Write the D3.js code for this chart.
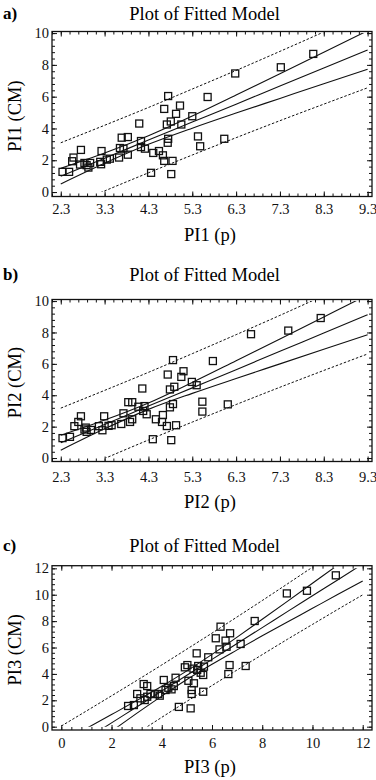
<!DOCTYPE html>
<html lang="en">
<head>
<meta charset="UTF-8">
<title>Plot of Fitted Model</title>
<script src="https://d3js.org/d3.v7.min.js"></script>
<style>
  body { margin: 0; background: #fff; }
  svg { display: block; font-family: "Liberation Serif", "Times New Roman", serif; }
  .frame { fill: none; stroke: #111; stroke-width: 1.3; }
  .tick line { stroke: #111; stroke-width: 1; }
  .domain { display: none; }
  .tick text { font-size: 14.5px; fill: #111; font-family: "Liberation Serif", serif; }
  .pt { fill: none; stroke: #111; stroke-width: 1.3; }
  .band { fill: none; stroke: #111; stroke-width: 1.1; }
  .pred { stroke-dasharray: 2.5, 1.8; stroke-width: 1; }
</style>
</head>
<body>
<svg id="chart" width="376" height="780"></svg>
<script>
// ---- panel a) PI1 ----
const xA = [2.34,2.49,2.56,2.59,2.76,2.74,2.84,2.89,2.93,2.97,3.23,3.20,3.22,3.35,3.42,3.63,3.65,3.69,3.73,3.83,
            3.83,4.09,4.13,4.13,4.22,4.41,4.36,4.54,4.63,4.66,4.75,4.72,4.74,4.75,4.81,4.66,4.85,4.82,4.93,5.02,
            5.05,5.30,5.43,5.48,5.65,6.03,6.28,7.32,8.06];
const yA = [1.27,1.27,1.94,2.17,2.65,1.73,1.83,1.69,1.54,1.83,2.58,1.90,1.75,2.04,2.10,2.17,2.77,3.42,2.73,3.46,
            2.35,4.31,3.21,2.83,2.73,2.46,1.21,2.58,2.31,5.23,6.04,4.25,3.10,3.35,4.44,1.96,1.96,1.13,4.92,5.44,
            4.25,4.77,3.50,2.88,5.98,3.35,7.46,7.85,8.69];
const gridAB = [2.3,3.3,4.3,5.3,6.3,7.3,8.3,9.3];
const fitA    = [1.00,2.13,3.27,4.40,5.53,6.67,7.80,8.94];
const confHiA = [1.49,2.45,3.54,4.78,6.10,7.44,8.79,10.15];
const confLoA = [0.51,1.81,3.00,4.02,4.97,5.89,6.81,7.72];
const predHiA = [3.10,4.20,5.32,6.48,7.65,8.85,10.07,11.31];
const predLoA = [-1.10,0.07,1.21,2.33,3.42,4.49,5.53,6.56];

// ---- panel b) PI2 ----
const xB = [2.34,2.51,2.61,2.70,2.76,2.84,2.89,2.87,2.99,3.17,3.29,3.25,3.39,3.46,3.68,3.73,3.84,3.93,3.88,3.93,
            4.07,4.16,4.21,4.18,4.26,4.40,4.47,4.63,4.61,4.74,4.86,4.79,4.79,4.86,4.89,4.72,4.93,4.82,5.05,5.10,
            5.29,5.40,5.53,5.53,5.77,6.11,6.64,7.49,8.23];
const yB = [1.27,1.35,2.03,2.30,2.66,1.82,1.67,1.94,1.79,2.03,2.66,1.77,2.05,2.09,2.17,2.85,3.56,3.56,2.30,2.47,
            3.27,4.43,3.31,3.00,2.79,1.20,2.47,2.74,2.30,5.32,6.24,4.37,3.23,3.44,4.54,2.04,2.09,1.14,5.17,5.53,
            4.85,4.64,3.59,2.96,6.18,3.42,7.89,8.12,8.92];
const fitB    = [0.98,2.14,3.31,4.47,5.63,6.80,7.96,9.13];
const confHiB = [1.45,2.42,3.51,4.82,6.20,7.59,8.99,10.39];
const confLoB = [0.50,1.86,3.10,4.12,5.07,6.00,6.93,7.86];
const predHiB = [3.18,4.31,5.46,6.65,7.86,9.09,10.35,11.62];
const predLoB = [-1.23,-0.03,1.15,2.29,3.41,4.51,5.58,6.63];

// ---- panel c) PI3 ----
const xC = [2.66,2.89,3.02,3.28,3.42,3.15,3.32,3.42,3.55,3.72,3.86,3.92,4.08,4.15,4.26,4.39,4.48,4.55,4.68,4.92,
            5.02,5.06,5.15,5.19,5.19,5.28,5.39,5.41,5.45,5.55,5.65,5.68,5.65,5.85,5.26,6.15,6.34,6.54,6.72,6.30,
            6.58,7.14,6.70,6.65,7.34,7.70,8.98,9.78,10.93];
const yC = [1.57,1.64,2.48,3.23,3.08,2.15,2.02,2.27,2.48,2.48,2.48,2.35,3.54,2.78,2.95,2.83,3.08,3.71,1.50,4.50,
            4.67,3.48,1.39,2.78,2.48,3.29,5.56,4.30,4.60,4.09,3.92,4.55,2.65,5.26,4.40,6.70,7.58,6.52,7.08,5.86,
            6.06,6.27,4.67,3.99,4.60,8.01,10.10,10.30,11.47];
const gridC = [0,1,2,3,4,5,6,7,8,9,10,11,12];
const fitC    = [-2.12,-0.92,0.29,1.49,2.70,3.90,5.10,6.31,7.51,8.72,9.92,11.12,12.33];
const confHiC = [-1.17,-0.13,0.92,1.98,3.07,4.23,5.48,6.79,8.14,9.50,10.87,12.24,13.62];
const confLoC = [-3.07,-1.70,-0.34,1.01,2.32,3.57,4.73,5.82,6.89,7.93,8.97,10.01,11.04];
const predHiC = [0.05,1.19,2.34,3.50,4.68,5.88,7.09,8.32,9.56,10.82,12.09,13.37,14.67];
const predLoC = [-4.29,-3.02,-1.76,-0.52,0.71,1.92,3.12,4.30,5.46,6.62,7.75,8.88,9.99];

// tick labels
const xTicksAB = [2.3,3.3,4.3,5.3,6.3,7.3,8.3,9.3];
const yTicksAB = [0,2,4,6,8,10];
const xTicksC = [0,2,4,6,8,10,12];
const yTicksC = [0,2,4,6,8,10,12];

const svg = d3.select('#chart');
const left = 52, right = 372;
const serif = '"Liberation Serif", "Times New Roman", serif';

const panels = [
  { tag: 'a)', xs: xA, ys: yA, grid: gridAB, fit: fitA, cHi: confHiA, cLo: confLoA, pHi: predHiA, pLo: predLoA,
    xDom: [2.1, 9.4], yDom: [-0.28, 10.1], top: 31.5, bottom: 196.5, yMax: 10,
    xTicks: xTicksAB, yTicks: yTicksAB, xMinor: 0.2, xStart: 2.1, fmt: d3.format('.1f'),
    titleY: 19.5, xLabPad: 7.2, xTitleY: 240.5, xTitle: 'PI1 (p)', yTitle: 'PI1 (CM)' },
  { tag: 'b)', xs: xB, ys: yB, grid: gridAB, fit: fitB, cHi: confHiB, cLo: confLoB, pHi: predHiB, pLo: predLoB,
    xDom: [2.1, 9.4], yDom: [-0.22, 10.1], top: 299.5, bottom: 461.5, yMax: 10,
    xTicks: xTicksAB, yTicks: yTicksAB, xMinor: 0.2, xStart: 2.1, fmt: d3.format('.1f'),
    titleY: 281, xLabPad: 10, xTitleY: 508, xTitle: 'PI2 (p)', yTitle: 'PI2 (CM)' },
  { tag: 'c)', xs: xC, ys: yC, grid: gridC, fit: fitC, cHi: confHiC, cLo: confLoC, pHi: predHiC, pLo: predLoC,
    xDom: [-0.37, 12.37], yDom: [-0.25, 12.2], top: 565.7, bottom: 730, yMax: 12,
    xTicks: xTicksC, yTicks: yTicksC, xMinor: 0.4, xStart: 0, fmt: d3.format('d'),
    titleY: 551.5, xLabPad: 7.4, xTitleY: 773, xTitle: 'PI3 (p)', yTitle: 'PI3 (CM)' }
];

panels.forEach(function(p, i) {
  const x = d3.scaleLinear().domain(p.xDom).range([left, right]);
  const y = d3.scaleLinear().domain(p.yDom).range([p.bottom, p.top]);
  const g = svg.append('g');

  // minor ticks
  const xMinor = d3.range(p.xStart, p.xDom[1] + 1e-6, p.xMinor);
  const yMinor = d3.range(0, p.yDom[1] + 1e-6, 0.4);
  const blank = () => '';
  g.append('g').attr('transform', `translate(0,${p.bottom})`)
    .call(d3.axisBottom(x).tickValues(xMinor).tickSize(-3).tickFormat(blank));
  g.append('g').attr('transform', `translate(0,${p.top})`)
    .call(d3.axisTop(x).tickValues(xMinor).tickSize(-3).tickFormat(blank));
  g.append('g').attr('transform', `translate(${left},0)`)
    .call(d3.axisLeft(y).tickValues(yMinor).tickSize(-3).tickFormat(blank));
  g.append('g').attr('transform', `translate(${right},0)`)
    .call(d3.axisRight(y).tickValues(yMinor).tickSize(-3).tickFormat(blank));

  // major ticks + labels
  g.append('g').attr('transform', `translate(0,${p.bottom})`)
    .call(d3.axisBottom(x).tickValues(p.xTicks).tickSize(-5).tickPadding(p.xLabPad).tickFormat(p.fmt))
    .attr('font-family', serif).attr('font-size', 14.5);
  g.append('g').attr('transform', `translate(0,${p.top})`)
    .call(d3.axisTop(x).tickValues(p.xTicks).tickSize(-5).tickFormat(blank));
  g.append('g').attr('transform', `translate(${left},0)`)
    .call(d3.axisLeft(y).tickValues(p.yTicks).tickSize(-5).tickPadding(3).tickFormat(d3.format('d')))
    .attr('font-family', serif).attr('font-size', 14.5);
  g.append('g').attr('transform', `translate(${right},0)`)
    .call(d3.axisRight(y).tickValues(p.yTicks).tickSize(-5).tickFormat(blank));

  g.append('rect').attr('class', 'frame')
    .attr('x', left).attr('y', p.top)
    .attr('width', right - left).attr('height', p.bottom - p.top);

  // clip lines to the 0..max value window
  const clipId = 'clip' + i;
  svg.append('clipPath').attr('id', clipId).append('rect')
    .attr('x', left).attr('y', y(p.yMax))
    .attr('width', right - left).attr('height', y(0) - y(p.yMax));

  const line = d3.line().x(d => x(d[0])).y(d => y(d[1])).curve(d3.curveMonotoneX);
  const bands = [
    { v: p.pHi, cls: 'band pred' }, { v: p.cHi, cls: 'band' }, { v: p.fit, cls: 'band' },
    { v: p.cLo, cls: 'band' }, { v: p.pLo, cls: 'band pred' }
  ];
  g.append('g').attr('clip-path', `url(#${clipId})`)
    .selectAll('path').data(bands).enter().append('path')
    .attr('class', d => d.cls)
    .attr('d', d => line(p.grid.map((gx, k) => [gx, d.v[k]])));

  // observed points
  const s = 7;
  g.selectAll('.pt').data(p.xs.map((v, k) => [v, p.ys[k]])).enter()
    .append('rect').attr('class', 'pt')
    .attr('x', d => x(d[0]) - s / 2).attr('y', d => y(d[1]) - s / 2)
    .attr('width', s).attr('height', s);

  // texts
  g.append('text').attr('x', 3).attr('y', p.titleY - 1)
    .style('font-size', '17px').style('font-weight', 'bold').text(p.tag);
  g.append('text').attr('x', 204.5).attr('y', p.titleY).attr('text-anchor', 'middle')
    .style('font-size', '18.5px').text('Plot of Fitted Model');
  g.append('text').attr('x', 210).attr('y', p.xTitleY).attr('text-anchor', 'middle')
    .style('font-size', '18.5px').text(p.xTitle);
  g.append('text')
    .attr('transform', `translate(21,${(p.top + p.bottom) / 2 + 2}) rotate(-90)`)
    .attr('text-anchor', 'middle')
    .style('font-size', '18.5px').text(p.yTitle);
});
</script>
</body>
</html>
